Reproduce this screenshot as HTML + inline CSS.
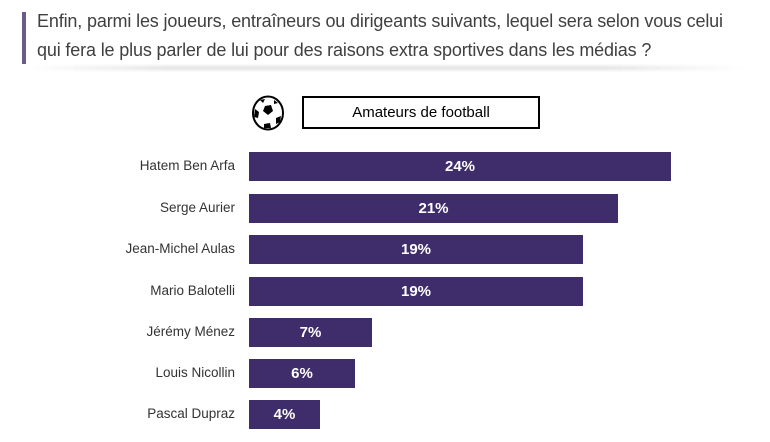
<!DOCTYPE html>
<html><head><meta charset="utf-8"><style>
body{margin:0;width:770px;height:442px;background:#fff;position:relative;overflow:hidden;font-family:"Liberation Sans",sans-serif;}
.t{position:absolute;left:37px;top:7px;font-size:18px;line-height:29px;color:#404040;letter-spacing:-0.15px;white-space:nowrap}
.vb{position:absolute;left:22px;top:12px;width:4px;height:52px;background:#6b5a8a}
.sh{position:absolute;left:25px;top:66px;width:720px;height:4px;background:linear-gradient(to right,rgba(0,0,0,0),rgba(0,0,0,0.12) 20%,rgba(0,0,0,0.12) 80%,rgba(0,0,0,0));filter:blur(1.5px)}
.box{position:absolute;left:302px;top:96px;width:234px;height:29px;border:2px solid #000;font-size:15px;text-align:center;line-height:29px;color:#000}
.lab{position:absolute;right:535px;font-size:13.5px;color:#333;text-align:right;white-space:nowrap}
.bar{position:absolute;left:249px;height:29px;background:#3f2d6b;color:#fff;font-weight:bold;font-size:15px;text-align:center;line-height:29px}
</style></head><body>
<div class="vb"></div>
<div class="t">Enfin, parmi les joueurs, entraîneurs ou dirigeants suivants, lequel sera selon vous celui<br>qui fera le plus parler de lui pour des raisons extra sportives dans les médias ?</div>
<div class="sh"></div>
<svg style="position:absolute;left:250px;top:95px" width="36" height="36" viewBox="0 0 36 36">
<ellipse cx="18" cy="18" rx="15" ry="16.5" fill="#fff" stroke="#000" stroke-width="2"/>
<polygon points="15,11 21,10 23,16 18,20 13,16" fill="#000"/>
<path d="M5,14 L9,17 L8,23 L4,22Z M26,23 L31,21 L30,27 L26,29Z M14,29 L20,28 L21,33 L14,33Z M10,5 L15,4 L13,8Z M24,5 L28,8 L24,9Z" fill="#000"/>
</svg>
<div class="box">Amateurs de football</div>
<div class="lab" style="top:158px">Hatem Ben Arfa</div><div class="bar" style="top:152px;width:422px">24%</div>
<div class="lab" style="top:200px">Serge Aurier</div><div class="bar" style="top:194px;width:369px">21%</div>
<div class="lab" style="top:241px">Jean-Michel Aulas</div><div class="bar" style="top:235px;width:334px">19%</div>
<div class="lab" style="top:283px">Mario Balotelli</div><div class="bar" style="top:277px;width:334px">19%</div>
<div class="lab" style="top:324px">Jérémy Ménez</div><div class="bar" style="top:318px;width:123px">7%</div>
<div class="lab" style="top:365px">Louis Nicollin</div><div class="bar" style="top:359px;width:106px">6%</div>
<div class="lab" style="top:406px">Pascal Dupraz</div><div class="bar" style="top:400px;width:71px">4%</div>
</body></html>
